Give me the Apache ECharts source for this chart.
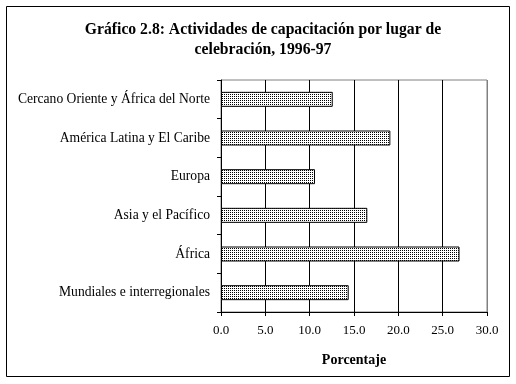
<!DOCTYPE html>
<html><head><meta charset="utf-8">
<script src="https://cdn.jsdelivr.net/npm/echarts@6/dist/echarts.min.js"></script>
<style>html,body{margin:0;padding:0;background:#fff}#c{width:516px;height:384px}</style>
</head><body><div id="c"></div>
<script>
const categories = ["Cercano Oriente y África del Norte","América Latina y El Caribe","Europa","Asia y el Pacífico","África","Mundiales e interregionales"];
const values = [12.6, 19.1, 10.6, 16.5, 26.9, 14.4];
const xTicks = ["0.0","5.0","10.0","15.0","20.0","25.0","30.0"];

const pc = document.createElement('canvas');
pc.width = 2; pc.height = 2;
const pctx = pc.getContext('2d');
pctx.fillStyle = '#fff'; pctx.fillRect(0,0,2,2);
pctx.fillStyle = '#000'; pctx.fillRect(0,0,1,1);

const font = '"Liberation Serif", "Times New Roman", serif';
const chart = echarts.init(document.getElementById('c'), null, {renderer:'canvas'});
chart.setOption({
  animation: false,
  backgroundColor: '#fff',
  title: {
    text: 'Gráfico 2.8: Actividades de capacitación por lugar de\ncelebración, 1996-97',
    left: 258, top: 15, textAlign: 'center',
    textStyle: {fontFamily: font, fontSize: 15.7, fontWeight: 'bold', color: '#000', lineHeight: 20}
  },
  graphic: [{type:'rect', shape:{x:6.5,y:6.5,width:503,height:370}, style:{fill:'none', stroke:'#000', lineWidth:1}, z:-1}],
  grid: {left: 221, right: 29, top: 80, bottom: 72, show: true, borderColor: '#808080', borderWidth: 1},
  xAxis: {
    type: 'value', min: 0, max: 30, interval: 5,
    name: 'Porcentaje', nameLocation: 'middle', nameGap: 41,
    nameTextStyle: {fontFamily: font, fontSize: 14, fontWeight: 'bold', color: '#000'},
    axisLine: {show: true, lineStyle: {color: '#000', width: 1}},
    axisTick: {show: true, length: 4, lineStyle: {color: '#000'}},
    axisLabel: {fontFamily: font, fontSize: 13, color: '#000', margin: 12,
      formatter: function(v){ return xTicks[Math.round(v/5)]; }},
    splitLine: {show: true, lineStyle: {color: ['#000','#000','#000','#000','#000','#000','#808080'], width: 1}}
  },
  yAxis: {
    type: 'category', data: categories, inverse: true,
    axisLine: {show: true, lineStyle: {color: '#000', width: 1}},
    axisTick: {show: true, length: 4, lineStyle: {color: '#000'}},
    axisLabel: {fontFamily: font, fontSize: 13.6, color: '#000', margin: 11},
    splitLine: {show: false}
  },
  series: [{
    type: 'bar', data: values, barWidth: 15,
    itemStyle: {color: {image: pc, repeat: 'repeat'}, borderColor: '#000', borderWidth: 1}
  }]
});
</script></body></html>
